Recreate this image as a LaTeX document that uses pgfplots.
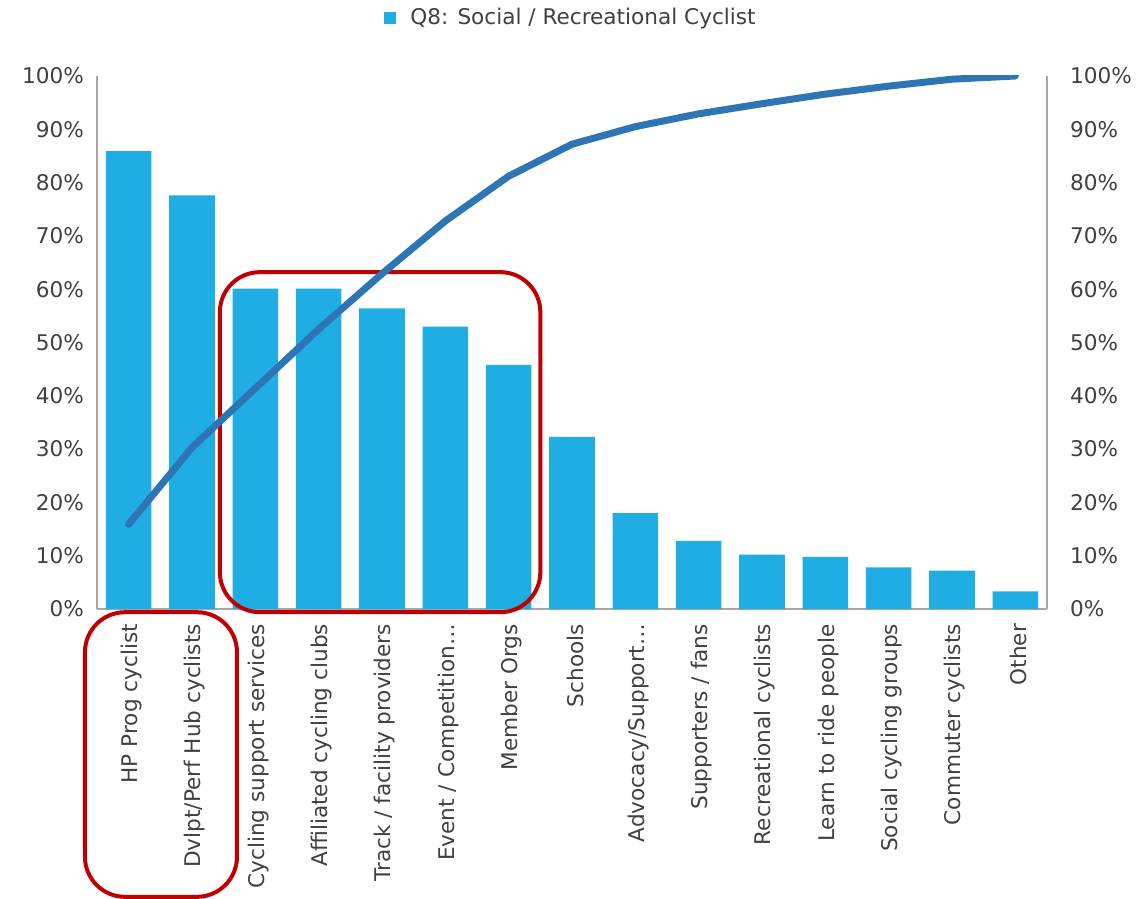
\documentclass[border=0pt]{standalone}
\usepackage{pgfplots}
\pgfplotsset{compat=1.18}
\usepackage{fontspec}
\setmainfont{DejaVu Sans}
\definecolor{barblue}{HTML}{1FADE4}
\definecolor{lineblue}{HTML}{2E75B6}
\definecolor{boxred}{HTML}{C00000}
\definecolor{txt}{HTML}{404040}
\definecolor{axgray}{HTML}{A6A6A6}
\begin{document}
\begin{tikzpicture}
\pgfplotsset{
  common/.style={
    scale only axis, width=475pt, height=266.5pt,
    xmin=-0.5, xmax=14.5, ymin=0, ymax=100,
    ytick={0,10,...,100},
    yticklabel={\pgfmathprintnumber{\tick}\%},
    /pgf/number format/assume math mode=true,
    major tick length=0pt,
    tick label style={font=\fontsize{10.8}{13}\selectfont, text=txt},
    axis line style={draw=axgray, line width=0.9pt},
  }
}
\begin{axis}[common,
  axis y line*=left, axis x line*=bottom,
  xtick={0,...,14},
  xticklabels={HP Prog cyclist, Dvlpt/Perf Hub cyclists, Cycling support services, Affiliated cycling clubs, Track / facility providers, Event / Competition\ldots, Member Orgs, Schools, Advocacy/Support\ldots, Supporters / fans, Recreational cyclists, Learn to ride people, Social cycling groups, Commuter cyclists, Other},
  xticklabel style={rotate=90, anchor=east, yshift=-1.5pt, xshift=-4pt},
  yticklabel style={xshift=-3pt},
  ybar, bar width=0.72,
  clip=false,
  legend style={at={(0.5,1)}, anchor=center, yshift=29pt, draw=none, fill=none,
    font=\fontsize{10.8}{13}\selectfont, text=txt},
  legend image code/.code={\fill[barblue] (0pt,-3pt) rectangle (6pt,3pt);},
  legend cell align=left,
  legend style={/tikz/every even column/.append style={column sep=0pt}},
]
\addplot[fill=barblue, draw=none] coordinates {
(0,85.9) (1,77.6) (2,60.1) (3,60.1) (4,56.4) (5,53.0) (6,45.8) (7,32.3)
(8,18.0) (9,12.8) (10,10.2) (11,9.8) (12,7.8) (13,7.2) (14,3.3)};
\addlegendentry{\hspace{5pt}Q8: Social / Recreational Cyclist}
\draw[boxred, line width=2pt, rounded corners=20pt] (axis cs:1.44,-0.6) rectangle (axis cs:6.5,63.2);
\draw[boxred, line width=2pt, rounded corners=20pt] (axis cs:-0.69,-0.6) rectangle (axis cs:1.71,-54);
\end{axis}
\begin{axis}[common,
  axis y line*=right, axis x line=none,
  yticklabel style={xshift=8pt},
]
\addplot[lineblue, line width=3.5pt, line cap=round, line join=round] coordinates {
(0,15.9) (1,30.3) (2,41.4) (3,52.5) (4,62.9) (5,72.8) (6,81.2) (7,87.2)
(8,90.5) (9,92.9) (10,94.8) (11,96.6) (12,98.1) (13,99.4) (14,100)};
\end{axis}
\pgfresetboundingbox
\path (current axis.south west) ++(-48.5pt,-145pt) coordinate (bbA);
\path (current axis.north east) ++(46.5pt,38pt) coordinate (bbB);
\path[use as bounding box] (bbA) rectangle (bbB);
\end{tikzpicture}
\end{document}
